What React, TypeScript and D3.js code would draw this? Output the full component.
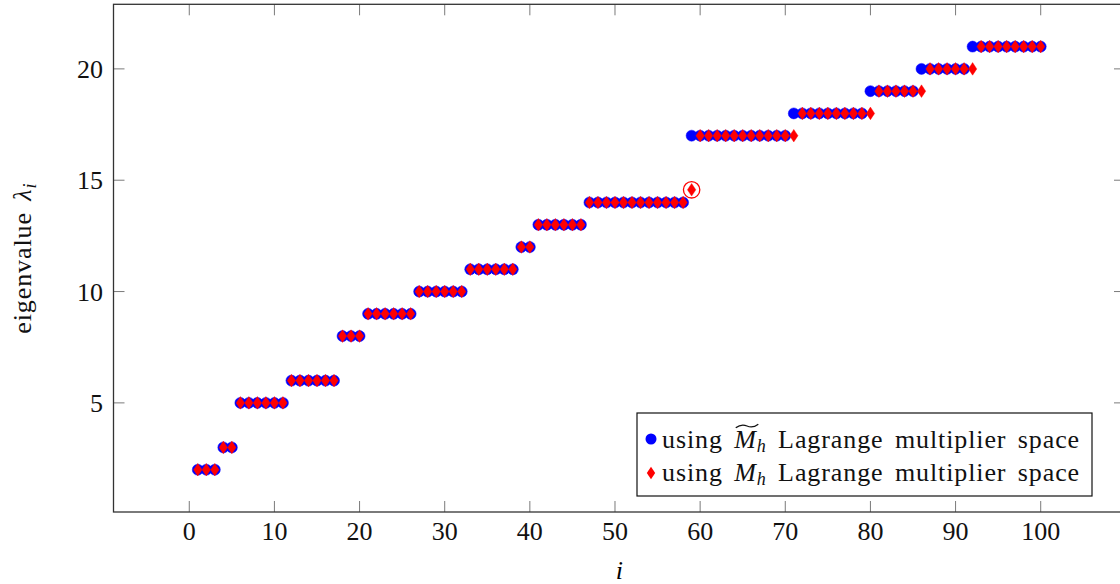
import React, { useRef, useEffect } from 'react';
import * as d3 from 'd3';

// eigenvalues, i = 1..100
const tildeEig = [
  2, 2, 2, 3, 3, 5, 5, 5, 5, 5, 5, 6, 6, 6, 6, 6, 6, 8, 8, 8,
  9, 9, 9, 9, 9, 9, 10, 10, 10, 10, 10, 10, 11, 11, 11, 11, 11, 11, 12, 12,
  13, 13, 13, 13, 13, 13, 14, 14, 14, 14, 14, 14, 14, 14, 14, 14, 14, 14, 17, 17,
  17, 17, 17, 17, 17, 17, 17, 17, 17, 17, 18, 18, 18, 18, 18, 18, 18, 18, 18, 19,
  19, 19, 19, 19, 19, 20, 20, 20, 20, 20, 20, 21, 21, 21, 21, 21, 21, 21, 21, 21,
];
const plainEig = [
  2, 2, 2, 3, 3, 5, 5, 5, 5, 5, 5, 6, 6, 6, 6, 6, 6, 8, 8, 8,
  9, 9, 9, 9, 9, 9, 10, 10, 10, 10, 10, 10, 11, 11, 11, 11, 11, 11, 12, 12,
  13, 13, 13, 13, 13, 13, 14, 14, 14, 14, 14, 14, 14, 14, 14, 14, 14, 14, 14.57, 17,
  17, 17, 17, 17, 17, 17, 17, 17, 17, 17, 17, 18, 18, 18, 18, 18, 18, 18, 18, 18,
  19, 19, 19, 19, 19, 19, 20, 20, 20, 20, 20, 20, 21, 21, 21, 21, 21, 21, 21, 21,
];
const circledIndex = [59];
const xTicks = [0, 10, 20, 30, 40, 50, 60, 70, 80, 90, 100];
const yTicks = [5, 10, 15, 20];
const legendLabels = ['using ', ' Lagrange multiplier space'];

const FONT = "'Liberation Serif', 'Times New Roman', 'DejaVu Serif', serif";

export default function App() {
  const svgRef = useRef<SVGSVGElement | null>(null);

  useEffect(() => {
    if (!svgRef.current) return;
    const width = 1120, height = 584;
    const left = 113.5, right = 1125, top = 4.3, bottom = 512;
    const svg = d3.select(svgRef.current);
    svg.selectAll('*').remove();

    const x = d3.scaleLinear().domain([-8.9, 109.9]).range([left, right]);
    const y = d3.scaleLinear().domain([0.1, 22.9]).range([bottom, top]);
    const tickLen = 11;

    svg.append('rect').attr('width', width).attr('height', height).attr('fill', 'white');

    // ticks (inward, on all four sides)
    const tickG = svg.append('g').attr('stroke', '#7a7a7a').attr('stroke-width', 1);
    xTicks.forEach((t) => {
      tickG.append('line').attr('x1', x(t)).attr('x2', x(t)).attr('y1', bottom).attr('y2', bottom - tickLen);
      tickG.append('line').attr('x1', x(t)).attr('x2', x(t)).attr('y1', top).attr('y2', top + tickLen);
    });
    yTicks.forEach((t) => {
      tickG.append('line').attr('x1', left).attr('x2', left + tickLen).attr('y1', y(t)).attr('y2', y(t));
      tickG.append('line').attr('x1', right).attr('x2', right - tickLen).attr('y1', y(t)).attr('y2', y(t));
    });

    svg.selectAll('text.xt').data(xTicks).enter().append('text')
      .attr('x', (d) => x(d)).attr('y', 540).attr('text-anchor', 'middle')
      .style('font-family', FONT).attr('font-size', 26).attr('fill', '#111').text((d) => d);
    svg.selectAll('text.yt').data(yTicks).enter().append('text')
      .attr('x', 103).attr('y', (d) => y(d) + 9).attr('text-anchor', 'end')
      .style('font-family', FONT).attr('font-size', 26).attr('fill', '#111').text((d) => d);

    // axis labels
    svg.append('text').attr('x', (left + right) / 2).attr('y', 579).attr('text-anchor', 'middle')
      .style('font-family', FONT).attr('font-size', 26).attr('font-style', 'italic').text('i');
    const yl = svg.append('text').attr('transform', `translate(31,${(top + bottom) / 2}) rotate(-90)`)
      .attr('text-anchor', 'middle').style('font-family', FONT).attr('font-size', 26).attr('fill', '#111')
      .attr('letter-spacing', 0.9).attr('word-spacing', 4);
    yl.append('tspan').text('eigenvalue ');
    yl.append('tspan').attr('font-style', 'italic').text('λ');
    yl.append('tspan').attr('font-style', 'italic').attr('font-size', 18).attr('dy', 5).text('i');

    // series 1: blue circles
    svg.append('g').selectAll('circle').data(tildeEig).enter().append('circle')
      .attr('cx', (_d, i) => x(i + 1)).attr('cy', (d) => y(d)).attr('r', 5.5)
      .attr('fill', '#0000ff').attr('stroke', '#0000ff').attr('stroke-width', 0.5);

    // series 2: red diamonds
    const diamond = (cx: number, cy: number) => `M${cx},${cy - 6.3}L${cx + 4.2},${cy}L${cx},${cy + 6.3}L${cx - 4.2},${cy}Z`;
    svg.append('g').selectAll('path').data(plainEig).enter().append('path')
      .attr('d', (d, i) => diamond(x(i + 1), y(d))).attr('fill', '#ff0000').attr('stroke', '#ff0000').attr('stroke-width', 0.4);

    // highlighted outlier
    circledIndex.forEach((idx) => {
      svg.append('circle').attr('cx', x(idx)).attr('cy', y(plainEig[idx - 1])).attr('r', 8.2)
        .attr('fill', 'none').attr('stroke', '#ff0000').attr('stroke-width', 1.3);
    });

    // frame
    svg.append('rect').attr('x', left).attr('y', top).attr('width', right - left).attr('height', bottom - top)
      .attr('fill', 'none').attr('stroke', '#333').attr('stroke-width', 1.3);

    // legend
    const lg = svg.append('g');
    lg.append('rect').attr('x', 637).attr('y', 413).attr('width', 455).attr('height', 83)
      .attr('fill', 'white').attr('stroke', '#111').attr('stroke-width', 1.2);
    lg.append('circle').attr('cx', 651).attr('cy', 439).attr('r', 5.5).attr('fill', '#0000ff');
    lg.append('path').attr('d', diamond(651, 473)).attr('fill', '#ff0000');
    const rows = [448, 481];
    rows.forEach((base, r) => {
      const t = lg.append('text').attr('x', 662).attr('y', base).style('font-family', FONT)
        .attr('font-size', 26).attr('fill', '#111').attr('letter-spacing', 0.9).attr('word-spacing', 4);
      t.append('tspan').text(legendLabels[0]);
      t.append('tspan').attr('font-style', 'italic').text('M');
      t.append('tspan').attr('font-style', 'italic').attr('font-size', 18).attr('dy', 4).text('h');
      t.append('tspan').attr('dy', -4).text(legendLabels[1]);
      if (r === 0) {
        const node = t.node() as SVGTextElement;
        const ext = node.getExtentOfChar(legendLabels[0].length);
        const x0 = ext.x + 1.5, w = ext.width;
        const ty = base - 22;
        lg.append('path')
          .attr('d', `M${x0},${ty + 1.8} Q${x0 + w * 0.25},${ty - 2.6} ${x0 + w * 0.5},${ty} T${x0 + w},${ty - 1.8}`)
          .attr('fill', 'none').attr('stroke', '#111').attr('stroke-width', 1.3);
      }
    });
  }, []);

  return (
    <svg ref={svgRef} width={1120} height={584}
      style={{ position: 'absolute', left: 0, top: 0, display: 'block' }} />
  );
}
